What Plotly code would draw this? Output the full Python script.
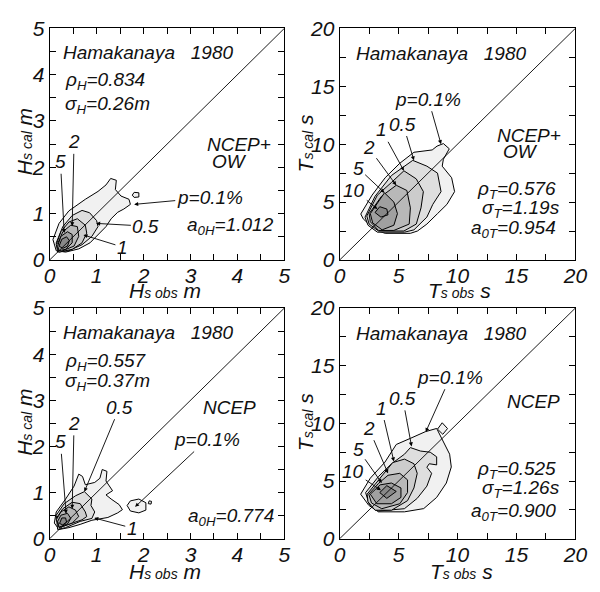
import plotly.graph_objects as go

# ---------------- data ----------------
H_ticks = [0, 1, 2, 3, 4, 5]
T_ticks = [0, 5, 10, 15, 20]
diag_H = [0, 5]
diag_T = [0, 20]

contour_levels = ["0.1", "0.5", "1", "2", "5", "10"]

# Top-left: Hs, NCEP+OW
tl_c01 = [(0.14,0.2),(0.07,0.44),(0.2,0.79),(0.41,1.06),(0.76,1.31),(1.03,1.48),(1.2,1.62),(1.3,1.76),(1.42,1.72),(1.4,1.52),(1.52,1.38),(1.69,1.31),(1.72,1.2),(1.58,1.1),(1.45,1.03),(1.31,0.89),(1.2,0.72),(1.07,0.58),(0.86,0.37),(0.62,0.24),(0.34,0.17),(0.14,0.2)]
tl_c01b = [(1.76,1.4),(1.8,1.46),(1.9,1.45),(1.9,1.36),(1.8,1.35),(1.76,1.4)]
tl_c05 = [(0.14,0.37),(0.28,0.72),(0.48,0.96),(0.69,1.07),(0.85,1.02),(1.0,0.85),(1.03,0.72),(0.9,0.51),(0.69,0.33),(0.41,0.2),(0.17,0.17),(0.14,0.37)]
tl_c1 = [(0.14,0.33),(0.24,0.61),(0.41,0.82),(0.59,0.89),(0.76,0.75),(0.79,0.58),(0.69,0.37),(0.48,0.23),(0.2,0.17),(0.14,0.33)]
tl_c2 = [(0.17,0.35),(0.28,0.61),(0.45,0.75),(0.59,0.72),(0.62,0.51),(0.52,0.3),(0.28,0.2),(0.17,0.35)]
tl_c5 = [(0.17,0.3),(0.24,0.51),(0.38,0.61),(0.48,0.55),(0.48,0.37),(0.34,0.23),(0.2,0.2),(0.17,0.3)]
tl_c10 = [(0.2,0.3),(0.26,0.45),(0.36,0.5),(0.42,0.42),(0.38,0.3),(0.28,0.25),(0.2,0.3)]

# Top-right: Ts, NCEP+OW
tr_c01 = [(1.79,3.97),(2.75,5.6),(3.86,7.1),(5.1,8.35),(6.3,9.3),(7.85,9.5),(8.26,9.83),(8.8,10.05),(9.3,9.6),(8.8,8.7),(8.7,8.1),(9.5,7.1),(9.75,5.9),(9.1,4.8),(8.3,4.0),(7.4,3.1),(6.6,2.5),(6.0,2.3),(3.86,2.3),(3.0,2.6),(2.0,3.55),(1.79,3.97)]
tr_c05 = [(2.15,3.7),(3.0,5.5),(4.4,7.3),(5.45,8.1),(6.2,8.6),(7.4,8.1),(8.3,7.5),(8.6,5.9),(7.9,4.8),(7.4,3.7),(6.3,2.6),(5.5,2.4),(3.2,2.4),(2.4,3.0),(2.15,3.7)]
tr_c1 = [(2.3,3.8),(3.2,5.6),(4.4,6.7),(5.45,7.7),(6.5,7.0),(7.1,5.9),(6.9,4.5),(6.5,3.1),(5.45,2.5),(3.3,2.5),(2.5,3.1),(2.3,3.8)]
tr_c2 = [(2.5,4.0),(3.55,5.5),(4.8,6.45),(5.7,6.0),(6.0,4.5),(5.9,3.1),(4.6,2.55),(3.3,2.55),(2.6,3.3),(2.5,4.0)]
tr_c5 = [(2.6,4.0),(3.8,5.8),(4.6,5.0),(4.9,4.0),(4.6,3.0),(3.6,2.6),(2.8,3.2),(2.6,4.0)]
tr_c10 = [(3.0,4.1),(3.4,4.6),(4.0,4.4),(4.1,3.9),(3.5,3.7),(3.0,4.1)]

# Bottom-left: Hs, NCEP
bl_c01 = [(0.1,0.34),(0.14,0.58),(0.34,0.86),(0.52,1.14),(0.62,1.4),(0.7,1.35),(0.76,1.17),(0.96,1.22),(1.07,1.31),(1.12,1.5),(1.22,1.46),(1.2,1.25),(1.34,1.04),(1.2,0.95),(1.31,0.86),(1.48,0.74),(1.55,0.63),(1.45,0.56),(1.24,0.46),(0.9,0.4),(0.65,0.31),(0.41,0.24),(0.2,0.2),(0.1,0.34)]
bl_c01b = [(1.65,0.72),(1.72,0.82),(1.9,0.86),(2.05,0.78),(2.05,0.62),(1.9,0.56),(1.72,0.6),(1.65,0.72)]
bl_c01c = [(2.1,0.76),(2.12,0.82),(2.17,0.81),(2.16,0.75),(2.1,0.76)]
bl_c05 = [(0.14,0.51),(0.31,0.76),(0.55,0.93),(0.74,1.02),(0.9,0.86),(0.88,0.72),(0.96,0.58),(0.9,0.44),(0.65,0.375),(0.34,0.24),(0.17,0.2),(0.14,0.51)]
bl_c1 = [(0.14,0.44),(0.28,0.65),(0.48,0.79),(0.65,0.76),(0.76,0.58),(0.79,0.48),(0.69,0.41),(0.41,0.31),(0.2,0.24),(0.14,0.44)]
bl_c2 = [(0.14,0.41),(0.24,0.58),(0.41,0.69),(0.55,0.62),(0.62,0.48),(0.48,0.34),(0.24,0.25),(0.14,0.41)]
bl_c5 = [(0.17,0.375),(0.24,0.51),(0.38,0.55),(0.45,0.44),(0.38,0.32),(0.2,0.25),(0.17,0.375)]
bl_c10 = [(0.21,0.33),(0.26,0.45),(0.34,0.45),(0.36,0.36),(0.28,0.3),(0.21,0.33)]

# Bottom-right: Ts, NCEP
br_c01 = [(1.78,3.86),(2.6,5.25),(3.84,6.64),(4.8,8.17),(6.04,8.72),(7.27,9.28),(8.23,9.56),(8.4,9.2),(8.78,8.44),(9.33,7.33),(9.47,6.22),(9.05,4.83),(8.23,3.58),(7.13,2.61),(5.49,2.33),(3.29,2.33),(2.47,2.89),(1.78,3.86)]
br_c01b = [(8.3,9.5),(8.7,10.05),(9.15,9.55),(8.75,9.05),(8.3,9.5)]
br_c05 = [(2.2,4.0),(3.3,5.4),(4.4,6.5),(5.5,7.33),(6.0,7.9),(6.86,7.6),(7.68,7.5),(8.23,7.1),(8.23,6.4),(7.6,6.5),(7.4,6.2),(7.8,5.67),(7.4,4.56),(6.58,3.5),(5.49,2.6),(3.29,2.4),(2.5,3.0),(2.2,4.0)]
br_c1 = [(2.33,3.86),(3.3,5.1),(4.5,6.6),(5.5,6.9),(6.3,6.5),(6.58,5.67),(6.3,4.4),(5.76,3.3),(4.4,2.47),(3.0,2.47),(2.4,3.2),(2.33,3.86)]
br_c2 = [(2.47,3.86),(3.3,4.8),(4.1,5.5),(5.1,5.67),(5.76,5.1),(5.76,4.0),(5.1,3.03),(3.57,2.6),(2.7,3.1),(2.47,3.86)]
br_c5 = [(2.6,3.86),(3.43,4.67),(4.39,4.83),(5.2,4.4),(5.2,3.58),(4.39,3.03),(3.15,3.03),(2.6,3.86)]
br_c10 = [(3.4,4.0),(4.0,4.6),(4.8,4.1),(4.0,3.5),(3.4,4.0)]

# statistics text
tl_stats = ["0.834", "0.26", "1.012"]
tr_stats = ["0.576", "1.19", "0.954"]
bl_stats = ["0.557", "0.37", "0.774"]
br_stats = ["0.525", "1.26", "0.900"]
site = "Hamakanaya&nbsp;&nbsp;&nbsp;1980"

# ---------------- figure ----------------
FONT = "Liberation Sans"
TXT = "#111111"
fills = ["#f1f1f1", "#dedede", "#cccccc", "#b8b8b8", "#a0a0a0", "#888888"]

def it(s):
    return "<i>" + s + "</i>"

fig = go.Figure()

panels = [
    ("x", "y", [tl_c01, tl_c05, tl_c1, tl_c2, tl_c5, tl_c10], [(tl_c01b, 0)], diag_H),
    ("x2", "y2", [tr_c01, tr_c05, tr_c1, tr_c2, tr_c5, tr_c10], [], diag_T),
    ("x3", "y3", [bl_c01, bl_c05, bl_c1, bl_c2, bl_c5, bl_c10], [(bl_c01b, 0), (bl_c01c, 0)], diag_H),
    ("x4", "y4", [br_c01, br_c05, br_c1, br_c2, br_c5, br_c10], [(br_c01b, 0)], diag_T),
]

for xa, ya, polys, extras, diag in panels:
    for i, poly in enumerate(polys):
        fig.add_trace(go.Scatter(
            x=[p[0] for p in poly], y=[p[1] for p in poly], xaxis=xa, yaxis=ya,
            mode="lines", fill="toself", fillcolor=fills[i],
            line=dict(color="black", width=1), hoverinfo="skip", showlegend=False))
    for poly, lev in extras:
        fig.add_trace(go.Scatter(
            x=[p[0] for p in poly], y=[p[1] for p in poly], xaxis=xa, yaxis=ya,
            mode="lines", fill="toself", fillcolor=fills[lev],
            line=dict(color="black", width=1), hoverinfo="skip", showlegend=False))
    fig.add_trace(go.Scatter(x=diag, y=diag, xaxis=xa, yaxis=ya, mode="lines",
                             line=dict(color="black", width=0.9),
                             hoverinfo="skip", showlegend=False))

def axis(domain, rng, ticks, minor, anchor, is_x):
    d = dict(domain=domain, range=rng, tickmode="array", tickvals=ticks,
             ticktext=[it(str(v)) for v in ticks], anchor=anchor,
             ticks="inside", ticklen=6, tickwidth=1, tickcolor="black",
             minor=dict(dtick=minor, tick0=0, ticks="inside", ticklen=6, tickwidth=1, tickcolor="black"),
             showline=True, linecolor="black", linewidth=1.2, mirror="ticks",
             showgrid=False, zeroline=False,
             tickfont=dict(family=FONT, size=21, color=TXT))
    if is_x:
        d["ticklabelstandoff"] = -3
    return d

xl = [45/600, 287/600]
xr = [344/600, 587/600]
yt = [1 - 258/592, 1 - 17/592]
yb = [1 - 548/592, 1 - 308/592]

fig.update_layout(
    width=600, height=592, margin=dict(l=0, r=0, t=0, b=0),
    paper_bgcolor="white", plot_bgcolor="white",
    xaxis=axis(xl, [0, 5], H_ticks, 0.5, "y", True), yaxis=axis(yt, [0, 5], H_ticks, 0.5, "x", False),
    xaxis2=axis(xr, [0, 20], T_ticks, 2.5, "y2", True), yaxis2=axis(yt, [0, 20], T_ticks, 2.5, "x2", False),
    xaxis3=axis(xl, [0, 5], H_ticks, 0.5, "y3", True), yaxis3=axis(yb, [0, 5], H_ticks, 0.5, "x3", False),
    xaxis4=axis(xr, [0, 20], T_ticks, 2.5, "y4", True), yaxis4=axis(yb, [0, 20], T_ticks, 2.5, "x4", False),
)

ann = []
def txt(xr_, yr_, x, y, text, xanchor="center", size=19):
    ann.append(dict(xref=xr_, yref=yr_, x=x, y=y, text=it(text), showarrow=False,
                    xanchor=xanchor, yanchor="middle",
                    font=dict(family=FONT, size=size, color=TXT)))

def arr(xr_, yr_, tx, ty, lx, ly, text, size=19, head=2):
    ann.append(dict(xref=xr_, yref=yr_, axref=xr_, ayref=yr_, x=tx, y=ty, ax=lx, ay=ly,
                    text=it(text), showarrow=True, arrowhead=head, arrowsize=0.9,
                    arrowwidth=0.9, arrowcolor="black", standoff=0,
                    font=dict(family=FONT, size=size, color=TXT)))

# Top-left
txt("x", "y", 0.24, 4.48, site, "left")
txt("x", "y", 0.28, 3.86, "ρ<sub>H</sub>=" + tl_stats[0], "left")
txt("x", "y", 0.28, 3.34, "σ<sub>H</sub>=" + tl_stats[1] + "m", "left")
txt("x", "y", 4.03, 2.49, "NCEP+")
txt("x", "y", 3.84, 2.12, "OW")
txt("x", "y", 4.82, 0.73, "a<sub>0H</sub>=" + tl_stats[2], "right")
arr("x", "y", 1.8, 1.2, 3.41, 1.35, "p=0.1%")
arr("x", "y", 0.99, 0.79, 2.05, 0.73, "0.5")
arr("x", "y", 0.72, 0.54, 1.55, 0.28, "1")
arr("x", "y", 0.31, 0.58, 0.23, 2.12, "5")
arr("x", "y", 0.48, 0.73, 0.52, 2.55, "2")

# Top-right
txt("x2", "y2", 1.2, 17.85, site, "left")
txt("x2", "y2", 16.03, 10.74, "NCEP+")
txt("x2", "y2", 15.37, 9.34, "OW")
txt("x2", "y2", 18.5, 6.03, "ρ<sub>T</sub>=" + tr_stats[0], "right")
txt("x2", "y2", 18.9, 4.38, "σ<sub>T</sub>=" + tr_stats[1] + "s", "right")
txt("x2", "y2", 18.5, 2.64, "a<sub>0T</sub>=" + tr_stats[2], "right")
arr("x2", "y2", 8.6, 10.0, 7.52, 13.88, "p=0.1%")
arr("x2", "y2", 6.3, 8.6, 5.37, 11.74, "0.5")
arr("x2", "y2", 5.45, 7.7, 3.55, 11.24, "1")
arr("x2", "y2", 4.8, 6.45, 2.48, 9.67, "2")
arr("x2", "y2", 3.8, 5.8, 1.57, 7.93, "5")
arr("x2", "y2", 3.2, 4.4, 1.24, 6.03, "10")

# Bottom-left
txt("x3", "y3", 0.24, 4.48, site, "left")
txt("x3", "y3", 0.28, 3.83, "ρ<sub>H</sub>=" + bl_stats[0], "left")
txt("x3", "y3", 0.28, 3.40, "σ<sub>H</sub>=" + bl_stats[1] + "m", "left")
txt("x3", "y3", 3.84, 2.85, "NCEP")
txt("x3", "y3", 4.82, 0.46, "a<sub>0H</sub>=" + bl_stats[2], "right")
arr("x3", "y3", 1.82, 0.69, 3.35, 2.15, "p=0.1%")
arr("x3", "y3", 0.74, 1.02, 1.49, 2.85, "0.5")
arr("x3", "y3", 0.48, 0.65, 0.52, 2.5, "2")
arr("x3", "y3", 0.35, 0.54, 0.23, 2.1, "5")
arr("x3", "y3", 0.95, 0.45, 1.76, 0.23, "1")

# Bottom-right
txt("x4", "y4", 1.2, 17.75, site, "left")
txt("x4", "y4", 16.46, 11.92, "NCEP")
txt("x4", "y4", 18.5, 6.0, "ρ<sub>T</sub>=" + br_stats[0], "right")
txt("x4", "y4", 18.9, 4.33, "σ<sub>T</sub>=" + br_stats[1] + "s", "right")
txt("x4", "y4", 18.5, 2.33, "a<sub>0T</sub>=" + br_stats[2], "right")
arr("x4", "y4", 7.3, 9.25, 9.38, 14.0, "p=0.1%")
arr("x4", "y4", 6.1, 8.0, 5.35, 12.17, "0.5")
arr("x4", "y4", 4.6, 6.7, 3.54, 11.33, "1")
arr("x4", "y4", 4.1, 5.67, 2.47, 9.58, "2")
arr("x4", "y4", 3.57, 4.83, 1.56, 7.75, "5")
arr("x4", "y4", 3.5, 4.2, 1.15, 5.83, "10")

# axis titles
def atitle(x, y, big, small, unit, angle=0):
    t = it(big + "<span style='font-size:14px'>" + small + "</span> " + unit)
    ann.append(dict(xref="paper", yref="paper", x=x, y=y, text=t, showarrow=False,
                    xanchor="center", yanchor="middle", textangle=angle,
                    font=dict(family=FONT, size=21, color=TXT)))

atitle(164/600, 1 - 290/592, "H", "s obs", "m")
atitle(19/600, 1 - 135/592, "H", "s cal", "m", -90)
atitle(468/600, 1 - 290/592, "T", "s obs", "s")
atitle(309/600, 1 - 137/592, "T", "s cal", "s", -90)
atitle(164/600, 1 - 582/592, "H", "s obs", "m")
atitle(19/600, 1 - 427/592, "H", "s cal", "m", -90)
atitle(470/600, 1 - 582/592, "T", "s obs", "s")
atitle(309/600, 1 - 427/592, "T", "s cal", "s", -90)

fig.update_layout(annotations=ann)
fig.write_html("out.html")
